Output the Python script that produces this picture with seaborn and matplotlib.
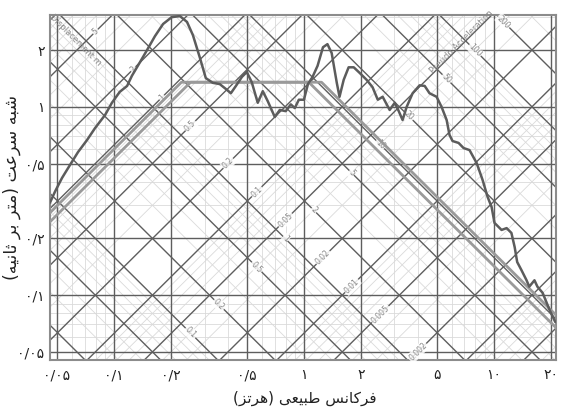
import numpy as np
import pandas as pd
import matplotlib
matplotlib.use("Agg")
import matplotlib.pyplot as plt
import seaborn as sns

# ---------------- data ----------------
freq = [0.0459, 0.0488, 0.0531, 0.0585, 0.0645, 0.0720, 0.0793, 0.0895, 0.0973, 0.107,
        0.117, 0.124, 0.137, 0.149, 0.164, 0.181, 0.201, 0.222, 0.242, 0.260,
        0.283, 0.304, 0.331, 0.360, 0.393, 0.412, 0.438, 0.471, 0.500, 0.531,
        0.571, 0.607, 0.645, 0.702, 0.746, 0.802, 0.853, 0.895, 0.940, 1.00,
        1.05, 1.11, 1.18, 1.26, 1.33, 1.40, 1.49, 1.54, 1.62, 1.72,
        1.83, 1.97, 2.14, 2.30, 2.45, 2.60, 2.83, 3.01, 3.16, 3.31,
        3.48, 3.74, 4.07, 4.33, 4.59, 5.00, 5.31, 5.65, 5.85, 6.07,
        6.53, 6.94, 7.46, 8.13, 8.74, 9.29, 9.75, 10.1, 11.0, 11.7,
        12.4, 12.9, 13.3, 14.0, 14.9, 15.4, 16.4, 17.0, 18.1, 19.7, 21.1]
psv = [0.310, 0.355, 0.419, 0.491, 0.575, 0.667, 0.771, 0.904, 1.05, 1.20,
       1.29, 1.46, 1.73, 2.00, 2.37, 2.75, 2.99, 3.03, 2.82, 2.40,
       1.82, 1.42, 1.34, 1.32, 1.23, 1.18, 1.29, 1.44, 1.53, 1.35,
       1.05, 1.21, 1.07, 0.883, 0.962, 0.948, 1.03, 0.984, 1.09, 1.09,
       1.32, 1.44, 1.65, 2.07, 2.15, 1.93, 1.34, 1.13, 1.39, 1.62,
       1.62, 1.51, 1.39, 1.27, 1.09, 1.13, 0.962, 1.05, 0.948, 0.851,
       1.00, 1.18, 1.30, 1.29, 1.18, 1.13, 1.00, 0.851, 0.709, 0.658,
       0.643, 0.604, 0.589, 0.503, 0.409, 0.332, 0.294, 0.242, 0.222, 0.227,
       0.214, 0.180, 0.150, 0.136, 0.120, 0.111, 0.120, 0.111, 0.103, 0.0836, 0.0721]

# idealised (design) spectra: displacement [m], velocity [m/s], acceleration [m/s^2]
design_D = [0.95, 0.85]
design_V = [1.35, 1.35]
design_A = [10.5, 9.0]

x_ticks = [0.05, 0.1, 0.2, 0.5, 1, 2, 5, 10, 20]
x_tick_labels = ["۰/۰۵", "۰/۱", "۰/۲", "۰/۵", "۱", "۲", "۵", "۱۰", "۲۰"]
y_ticks = [0.05, 0.1, 0.2, 0.5, 1, 2]
y_tick_labels = ["۰/۰۵", "۰/۱", "۰/۲", "۰/۵", "۱", "۲"]

disp_labels = [5, 2, 1, 0.5, 0.2, 0.1, 0.05, 0.02, 0.01, 0.005, 0.002]
acc_labels = [0.1, 0.2, 0.5, 1, 2, 5, 10, 20, 50, 100, 200]

x_label = "فرکانس طبیعی (هرتز)"
y_label = "شبه سرعت (متر بر ثانیه)"

XLIM = (0.0459, 21.3)
YLIM = (0.0453, 3.07)

# ---------------- persian shaping ----------------
FORMS = {
    "ا": ("\uFE8D", "\uFE8E", None, None),
    "ب": ("\uFE8F", "\uFE90", "\uFE91", "\uFE92"),
    "ت": ("\uFE95", "\uFE96", "\uFE97", "\uFE98"),
    "ث": ("\uFE99", "\uFE9A", "\uFE9B", "\uFE9C"),
    "ر": ("\uFEAD", "\uFEAE", None, None),
    "ز": ("\uFEAF", "\uFEB0", None, None),
    "س": ("\uFEB1", "\uFEB2", "\uFEB3", "\uFEB4"),
    "ش": ("\uFEB5", "\uFEB6", "\uFEB7", "\uFEB8"),
    "ط": ("\uFEC1", "\uFEC2", "\uFEC3", "\uFEC4"),
    "ع": ("\uFEC9", "\uFECA", "\uFECB", "\uFECC"),
    "ف": ("\uFED1", "\uFED2", "\uFED3", "\uFED4"),
    "م": ("\uFEE1", "\uFEE2", "\uFEE3", "\uFEE4"),
    "ن": ("\uFEE5", "\uFEE6", "\uFEE7", "\uFEE8"),
    "ه": ("\uFEE9", "\uFEEA", "\uFEEB", "\uFEEC"),
    "ک": ("\uFB8E", "\uFB8F", "\uFB90", "\uFB91"),
    "ی": ("\uFBFC", "\uFBFD", "\uFBFE", "\uFBFF"),
}


def shape(text):
    out = []
    for i, c in enumerate(text):
        if c not in FORMS:
            out.append(c)
            continue
        prev = text[i - 1] if i > 0 else None
        nxt = text[i + 1] if i + 1 < len(text) else None
        iso, fin, ini, med = FORMS[c]
        jp = prev in FORMS and FORMS[prev][2] is not None
        jn = nxt in FORMS and ini is not None
        if jp and jn:
            out.append(med)
        elif jp:
            out.append(fin)
        elif jn:
            out.append(ini)
        else:
            out.append(iso)
    s = "".join(out)[::-1]
    s = s.translate(str.maketrans({"(": ")", ")": "("}))
    return s


# ---------------- figure ----------------
sns.set_style("white")
plt.rcParams["font.family"] = ["DejaVu Sans"]
fig = plt.figure(figsize=(5.61, 4.16), dpi=100)
ax = fig.add_axes([50 / 561, 1 - 360 / 416, 506 / 561, 345 / 416])
ax.set_xscale("log")
ax.set_yscale("log")
ax.set_xlim(*XLIM)
ax.set_ylim(*YLIM)

fx = np.array([XLIM[0] / 1.5, XLIM[1] * 1.5])
TP = 2 * np.pi

minor_c, major_c = "#dadada", "#5e5e5e"
for k in range(-5, 4):
    for m in range(1, 10):
        val = m * 10.0 ** k
        major = m in (1, 2, 5)
        col = major_c if major else minor_c
        lw = 1.0 if major else 0.6
        z = 2 if major else 1
        if XLIM[0] <= val <= XLIM[1]:
            ax.axvline(val, color=col, lw=lw, zorder=z)
        if YLIM[0] <= val <= YLIM[1]:
            ax.axhline(val, color=col, lw=lw, zorder=z)
        # constant displacement (m) and constant acceleration (m/s^2)
        ax.plot(fx, TP * fx * val, color=col, lw=lw, zorder=z)
        ax.plot(fx, val / (TP * fx), color=col, lw=lw, zorder=z)

lab_kw = dict(fontsize=5.5, color="#8a8a8a", ha="center", va="center", zorder=3,
              bbox=dict(facecolor="white", edgecolor="none", pad=0.6, alpha=0.85))
c_d = 0.2
for d in disp_labels:
    f = np.sqrt(c_d / (TP * d))
    ax.text(f, c_d / f, f"{d:g}", rotation=45, **lab_kw)
k_a = 0.25
for a in acc_labels:
    f = np.sqrt(a / (TP * k_a))
    ax.text(f, k_a * f, f"{a:g}", rotation=-45, **lab_kw)

ax.text(0.0625, 2.25, "Displacement m", rotation=-45, fontsize=6, color="#8a8a8a",
        ha="center", va="center", zorder=3)
ax.text(6.8, 2.2, "Pseudo Acceleration", rotation=45, fontsize=6, color="#8a8a8a",
        ha="center", va="center", zorder=3)

# design spectra
rows = []
for i, (D, V, A) in enumerate(zip(design_D, design_V, design_A)):
    f1, f2 = V / (TP * D), A / (TP * V)
    pts = [(XLIM[0], TP * XLIM[0] * D), (f1, V), (f2, V), (XLIM[1], A / (TP * XLIM[1]))]
    for j, (f, v) in enumerate(pts):
        rows.append(dict(f=f, v=v, s=i, o=j))
design = pd.DataFrame(rows)
sns.lineplot(data=design, x="f", y="v", units="s", estimator=None, sort=False,
             color="#9a9a9a", lw=2.0, ax=ax, zorder=4)

spec = pd.DataFrame(dict(f=freq, v=psv))
sns.lineplot(data=spec, x="f", y="v", sort=False, color="#5c5c5c", lw=1.8, ax=ax, zorder=5)

ax.set_xlim(*XLIM)
ax.set_ylim(*YLIM)
ax.set_xticks(x_ticks)
ax.set_xticklabels(x_tick_labels)
ax.set_yticks(y_ticks)
ax.set_yticklabels(y_tick_labels)
ax.minorticks_off()
ax.tick_params(length=0, labelsize=10, colors="#222222")
ax.tick_params(axis="x", pad=6)
ax.tick_params(axis="y", pad=4)
for sp in ax.spines.values():
    sp.set_color("#8c8c8c")
    sp.set_linewidth(1.5)
ax.set_xlabel(shape(x_label), fontsize=11, color="#222222")
ax.set_ylabel(shape(y_label), fontsize=12.5, color="#222222")
ax.xaxis.set_label_coords((305 - 50) / 506, -(398 - 360) / 345)
ax.yaxis.set_label_coords(-(50 - 12) / 506, 0.5)
ax.xaxis.label.set_va("center")
ax.yaxis.label.set_va("center")

fig.savefig("out.png", dpi=100)
